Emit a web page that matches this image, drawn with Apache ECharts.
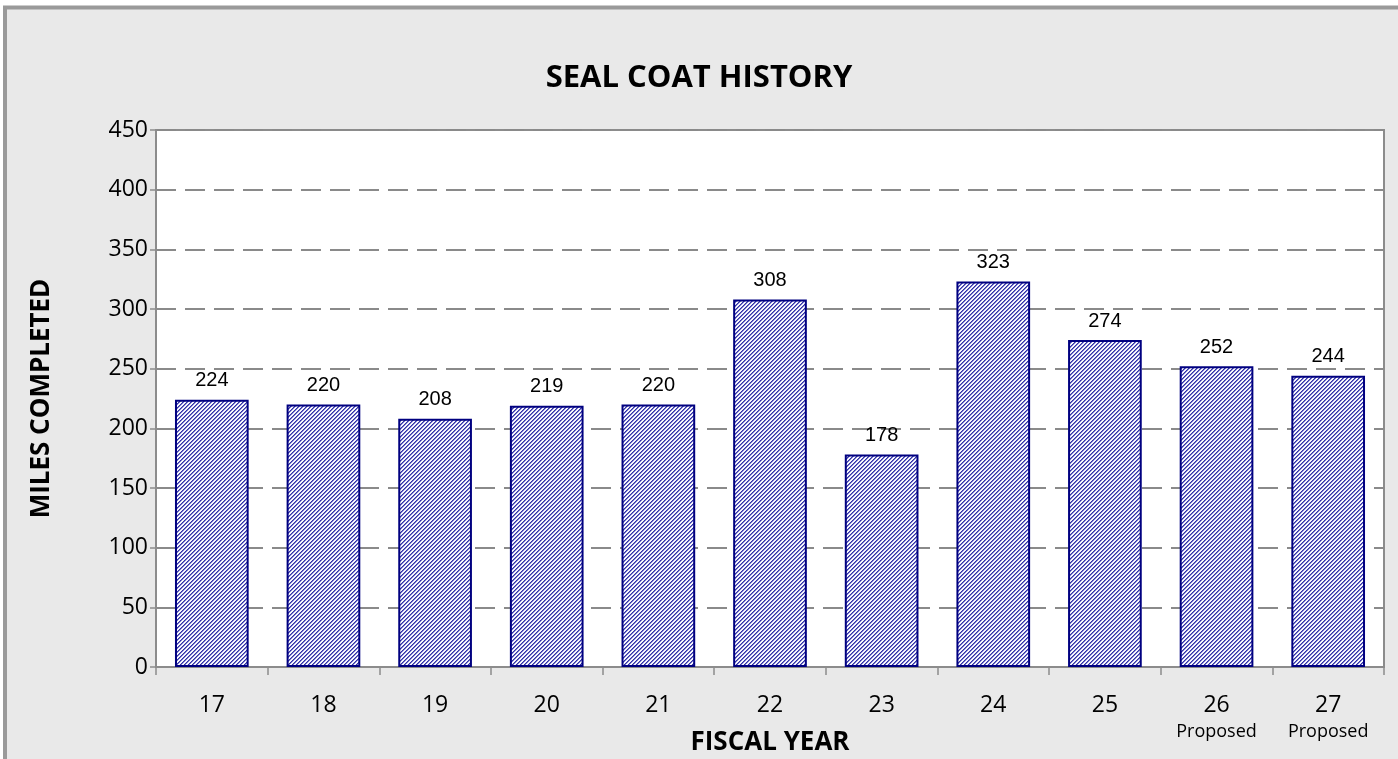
<!DOCTYPE html>
<html>
<head>
<meta charset="utf-8">
<script src="https://cdn.jsdelivr.net/npm/echarts@6/dist/echarts.min.js"></script>
<style>
html,body{margin:0;padding:0;background:#fff;}
#chart{width:1398px;height:759px;}
</style>
</head>
<body>
<div id="chart"></div>
<script>
const categories = ['17','18','19','20','21','22','23','24','25','26','27'];
const subLabels = ['','','','','','','','','','Proposed','Proposed'];
const miles = [224,220,208,219,220,308,178,323,274,252,244];
const yTicks = {min:0, max:450, interval:50};

function makeHatch(){
  const c = document.createElement('canvas');
  c.width = 8; c.height = 8;
  const ctx = c.getContext('2d');
  const img = ctx.createImageData(8,8);
  const cols = [[0x33,0x33,0xa6],[0x78,0x78,0xcc],[255,255,255],[0xee,0xee,0xfa]];
  for(let y=0;y<8;y++){
    for(let x=0;x<8;x++){
      const i=(y*8+x)*4;
      const col = cols[(x+y)%4];
      img.data[i]=col[0]; img.data[i+1]=col[1]; img.data[i+2]=col[2];
      img.data[i+3]=255;
    }
  }
  ctx.putImageData(img,0,0);
  return c;
}

const chart = echarts.init(document.getElementById('chart'), null, {renderer:'canvas'});
const option = {
  backgroundColor:'#ffffff',
  animation:false,
  graphic:[{
    type:'rect', z:-10, silent:true,
    shape:{x:5, y:7.5, width:1400, height:760},
    style:{fill:'#e9e9e9', stroke:'#9a9a9a', lineWidth:4}
  }],
  title:{
    text:'SEAL COAT HISTORY', left:'center', top:58,
    textStyle:{fontFamily:'Open Sans', fontWeight:'bold', fontSize:31, color:'#000'}
  },
  grid:{left:156, right:14, top:130, bottom:92, outerBoundsMode:'none', containLabel:false,
        show:true, backgroundColor:'#ffffff', borderColor:'#8c8c8c', borderWidth:2},
  xAxis:{
    type:'category', data:categories,
    name:'FISCAL YEAR', nameLocation:'middle', nameGap:63, nameMoveOverlap:false,
    nameTextStyle:{fontFamily:'Open Sans', fontWeight:'bold', fontSize:26, color:'#000'},
    axisLine:{lineStyle:{color:'#8c8c8c', width:2}},
    axisTick:{show:true, interval:0, length:8, lineStyle:{color:'#8c8c8c', width:1.5}},
    axisLabel:{
      interval:0, margin:25, color:'#000', fontFamily:'Open Sans', fontSize:23,
      formatter:function(v, idx){ const s=subLabels[idx]; return s ? '{a|'+v+'}\n{b|'+s+'}' : '{a|'+v+'}'; },
      rich:{a:{fontFamily:'Open Sans', fontSize:23, color:'#000', lineHeight:26}, b:{fontFamily:'Open Sans', fontSize:18, color:'#000', lineHeight:28}}
    }
  },
  yAxis:{
    type:'value', min:yTicks.min, max:yTicks.max, interval:yTicks.interval,
    name:'MILES COMPLETED', nameLocation:'middle', nameGap:101, nameRotate:90, nameMoveOverlap:false,
    nameTextStyle:{fontFamily:'Open Sans', fontWeight:'bold', fontSize:26, color:'#000'},
    axisLine:{show:true, lineStyle:{color:'#8c8c8c', width:2}},
    axisTick:{show:true, length:6, lineStyle:{color:'#8c8c8c', width:1.5}},
    axisLabel:{margin:8, color:'#000', fontFamily:'Open Sans', fontSize:23},
    splitLine:{show:true, lineStyle:{color:'#8a8a8a', width:2, type:[20,9]}}
  },
  series:[{
    type:'bar', data:miles, barWidth:'66%',
    itemStyle:{color:{image:makeHatch(), repeat:'repeat'}, borderColor:'#000080', borderWidth:2},
    label:{show:true, position:'top', distance:9, color:'#000', fontFamily:'Liberation Sans', fontSize:20}
  }]
};
chart.setOption(option);
</script>
</body>
</html>
